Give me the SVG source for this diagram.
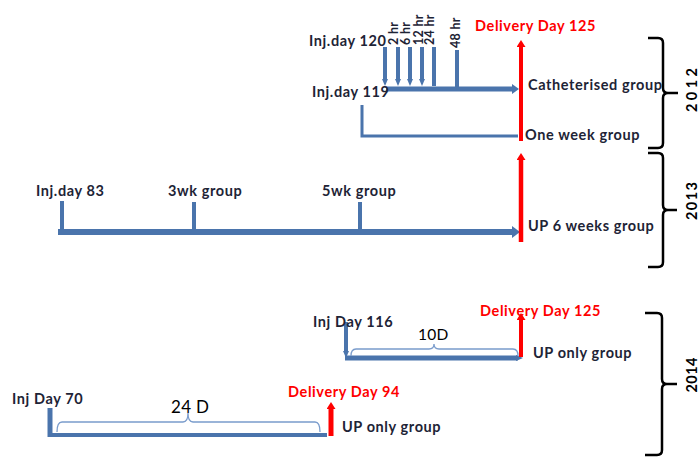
<svg xmlns="http://www.w3.org/2000/svg" width="700" height="459" viewBox="0 0 700 459">
<defs>
<style>
.t{font-family:Lato,"Liberation Sans",sans-serif;font-weight:bold;font-size:14.5px;letter-spacing:0.6px;fill:#1e2436}
.r{fill:#ff0000}
.h{font-size:12.5px;letter-spacing:0.3px}
.yr{font-size:14.5px;letter-spacing:0;fill:#000;text-anchor:middle}
.d{font-weight:normal;font-size:15.5px;letter-spacing:0.3px;fill:#000}
.bl{stroke:#4a74ac;fill:none;stroke-linecap:butt}
.rd{stroke:#ff0000;fill:none}
.br{stroke:#000;stroke-width:2.5;fill:none}
.tb{stroke:#7a9ccc;stroke-width:1.3;fill:none}
</style>
<marker id="hs" markerUnits="userSpaceOnUse" markerWidth="7" markerHeight="6" refX="2" refY="3" orient="auto"><path d="M0,0 L7,3 L0,6 z" fill="#4a74ac"/></marker>
<marker id="hb" markerUnits="userSpaceOnUse" markerWidth="7" markerHeight="10" refX="1" refY="5" orient="auto"><path d="M0,0 L7,5 L0,10 z" fill="#4a74ac"/></marker>
<marker id="hbl" markerUnits="userSpaceOnUse" markerWidth="8" markerHeight="12" refX="1" refY="6" orient="auto"><path d="M0,0 L8,6 L0,12 z" fill="#4a74ac"/></marker>
<marker id="hr" markerUnits="userSpaceOnUse" markerWidth="7" markerHeight="9" refX="1" refY="4.5" orient="auto"><path d="M0,0 L7,4.5 L0,9 z" fill="#ff0000"/></marker>
</defs>

<g id="connectors">
  <line class="bl" x1="385" y1="47" x2="385" y2="81" stroke-width="4" marker-end="url(#hs)"/>
  <line class="bl" x1="398" y1="47" x2="398" y2="81" stroke-width="4" marker-end="url(#hs)"/>
  <line class="bl" x1="410" y1="47" x2="410" y2="81" stroke-width="4" marker-end="url(#hs)"/>
  <line class="bl" x1="422" y1="47" x2="422" y2="81" stroke-width="4" marker-end="url(#hs)"/>
  <line class="bl" x1="434" y1="47" x2="434" y2="86" stroke-width="4"/>
  <line class="bl" x1="457" y1="50" x2="457" y2="88" stroke-width="4"/>
  <line class="bl" x1="386" y1="89" x2="513" y2="89" stroke-width="5" marker-end="url(#hb)"/>
  <path class="bl" d="M362,105 L362,136 L518,136" stroke-width="3"/>
  <line class="rd" x1="521" y1="141" x2="521" y2="46" stroke-width="4" marker-end="url(#hr)"/>
  <line class="bl" x1="62" y1="201" x2="62" y2="230" stroke-width="4"/>
  <line class="bl" x1="194" y1="202" x2="194" y2="230" stroke-width="4"/>
  <line class="bl" x1="360" y1="202" x2="360" y2="230" stroke-width="4"/>
  <line class="bl" x1="58" y1="232" x2="513" y2="232" stroke-width="6" marker-end="url(#hbl)"/>
  <line class="rd" x1="521" y1="242" x2="521" y2="159" stroke-width="4.5" marker-end="url(#hr)"/>
  <line class="bl" x1="346" y1="322" x2="346" y2="353" stroke-width="4" marker-end="url(#hs)"/>
  <line class="bl" x1="345" y1="358" x2="518" y2="358" stroke-width="5" marker-end="url(#hs)"/>
  <path class="tb" d="M351,356 Q351,349 356,349 L429,349 Q434,349 434,344 Q434,349 439,349 L513,349 Q518,349 518,356"/>
  <line class="rd" x1="521" y1="357" x2="521" y2="319" stroke-width="4" marker-end="url(#hr)"/>
  <line class="bl" x1="50" y1="408" x2="50" y2="437" stroke-width="5"/>
  <line class="bl" x1="48" y1="435" x2="327" y2="435" stroke-width="4"/>
  <path class="tb" d="M57,432 Q57,422 62,422 L183,422 Q188,422 188,413 Q188,422 193,422 L315,422 Q320,422 320,432"/>
  <line class="rd" x1="331" y1="436" x2="331" y2="408" stroke-width="5" marker-end="url(#hr)"/>
</g>

<g id="brace-2012">
  <path class="br" d="M648,38 L658,38 Q663,38 663,43 L663,88 Q663,93 668,93 L678,93 M668,93 Q663,93 663,98 L663,143 Q663,148 658,148 L648,148"/>
  <text class="t yr" transform="translate(697,90) rotate(-90)" textLength="44">2012</text>
</g>
<g id="brace-2013">
  <path class="br" d="M648,153 L658,153 Q663,153 663,158 L663,205 Q663,210 668,210 L677,210 M668,210 Q663,210 663,215 L663,262 Q663,267 658,267 L648,267"/>
  <text class="t yr" transform="translate(697,201) rotate(-90)" textLength="38">2013</text>
</g>
<g id="brace-2014">
  <path class="br" d="M645,313 L657,313 Q662,313 662,318 L662,379 Q662,384 667,384 L677,384 M667,384 Q662,384 662,389 L662,450 Q662,455 657,455 L645,455"/>
  <text class="t yr" transform="translate(697,375) rotate(-90)" textLength="35">2014</text>
</g>

<g id="node-2012-cath">
  <text class="t" x="309" y="46">Inj.day 120</text>
  <text class="t h" transform="translate(398,45) rotate(-90)">2 hr</text>
  <text class="t h" transform="translate(410,45) rotate(-90)">6 hr</text>
  <text class="t h" transform="translate(423,45) rotate(-90)">12 hr</text>
  <text class="t h" transform="translate(434,45) rotate(-90)">24 hr</text>
  <text class="t h" transform="translate(460,48) rotate(-90)">48 hr</text>
  <text class="t r" x="475" y="31">Delivery Day 125</text>
  <text class="t" x="528" y="90">Catheterised group</text>
</g>
<g id="node-2012-week">
  <text class="t" x="312" y="97">Inj.day 119</text>
  <text class="t" x="525" y="140">One week  group</text>
</g>
<g id="node-2013">
  <text class="t" x="36" y="196">Inj.day 83</text>
  <text class="t" x="168" y="196">3wk group</text>
  <text class="t" x="322" y="196">5wk  group</text>
  <text class="t" x="528" y="231">UP 6 weeks group</text>
</g>
<g id="node-2014-a">
  <text class="t" x="313" y="327">Inj Day 116</text>
  <text class="t d" x="418" y="340">10D</text>
  <text class="t r" x="480" y="316">Delivery Day 125</text>
  <text class="t" x="533" y="358">UP only group</text>
</g>
<g id="node-2014-b">
  <text class="t" x="12" y="404">Inj Day 70</text>
  <text class="t d" x="171" y="413" style="font-size:17px">24 D</text>
  <text class="t r" x="288" y="397">Delivery Day 94</text>
  <text class="t" x="342" y="432">UP only group</text>
</g>
</svg>
